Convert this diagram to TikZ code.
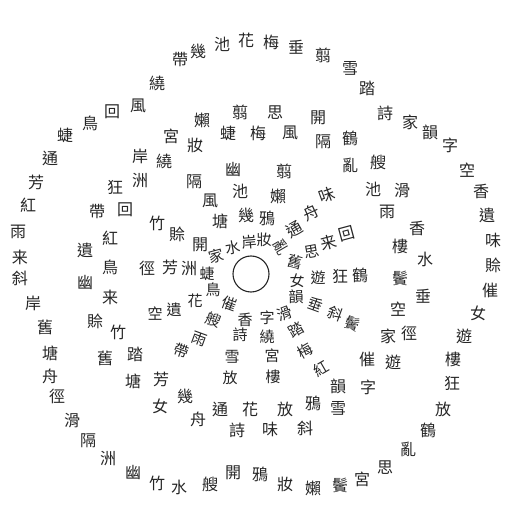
\documentclass[tikz,border=0pt]{standalone}
\usepackage{fontspec}
\newfontfamily\cjk{Noto Sans CJK TC}
\begin{document}
\begin{tikzpicture}[x=1pt,y=-1pt,
  ch/.style={inner sep=0pt, outer sep=0pt, text=black!85, font=\cjk\fontsize{16pt}{16pt}\selectfont}]
\useasboundingbox (0,0) rectangle (525,521);
\fill[white] (0,0) rectangle (525,521);
\node[draw=black!85, circle, line width=1.1pt, minimum size=36pt, inner sep=0pt] (hub) at (251,274) {};
% outer ring
\foreach \c/\x/\y [count=\i] in {帶/180/60, 幾/198/51, 池/222/44, 花/246/40, 梅/271/42, 垂/296/47, 翦/323/55, 雪/350/68, 踏/367/88, 詩/385/113, 家/410/122, 韻/430/132, 字/450/145, 空/467/170, 香/481/191, 遺/487/215, 味/493/240, 賒/493/265, 催/490/290, 女/478/313, 遊/464/336, 樓/453/359, 狂/452/383, 放/443/409, 鶴/428/430, 亂/408/449, 思/385/468, 宮/362/479, 鬢/340/485, 嬾/313/488, 妝/285/484, 鴉/260/474, 開/233/473, 艘/210/484, 水/179/487, 竹/157/483, 幽/133/472, 洲/108/459, 隔/88/441, 滑/72/421, 徑/57/396, 舟/50/376, 塘/50/353, 舊/45/327, 岸/33/303, 斜/20/278, 来/20/257, 雨/18/232, 紅/28/205, 芳/36/182, 通/50/158, 蜨/65/135, 鳥/90/123, 回/112/112, 風/138/106, 繞/157/83}
  {\node[ch] (o\i) at (\x,\y) {\c};}
% inner characters
\foreach \c/\x/\y/\r [count=\i] in {嬾/202/120/0, 翦/240/112/0, 思/275/113/0, 開/318/118/0, 宮/171/136/0, 蜨/228/133/0, 梅/258/133/0, 風/290/133/0, 鶴/350/138/0, 妝/195/145/0, 隔/323/142/0, 岸/140/156/0, 繞/164/161/0, 亂/350/165/0, 艘/378/162/0, 幽/233/170/0, 翦/284/171/0, 洲/140/181/0, 狂/115/187/0, 隔/194/182/0, 池/240/191/0, 嬾/278/196/0, 味/327/195/20, 池/373/189/0, 滑/402/191/0, 風/210/201/0, 雨/387/212/0, 帶/97/212/0, 回/125/210/0, 舟/311/213/25, 幾/246/215/0, 鴉/267/218/0, 塘/220/221/0, 竹/157/223/0, 通/294/229/30, 香/417/228/0, 賒/177/234/0, 回/347/234/15, 紅/110/238/0, 来/329/243/15, 開/200/245/0, 樓/400/246/0, 鬢/400/278/0, 水/425/259/0, 遺/85/250/0, 鳥/110/267/0, 徑/147/268/0, 芳/170/267/0, 洲/189/269/0, 狂/340/276/0, 鶴/360/275/0, 幽/85/283/0, 垂/423/296/0, 来/110/297/0, 空/398/309/0, 賒/95/321/0, 竹/118/332/0, 家/388/336/0, 徑/409/333/0, 踏/135/354/0, 舊/105/358/0, 催/367/359/0, 遊/393/362/0, 芳/161/379/0, 塘/133/381/0, 韻/338/386/0, 字/368/387/0, 幾/185/396/0, 鴉/313/403/0, 女/160/406/0, 雪/338/408/0, 通/220/409/0, 花/250/409/0, 放/285/409/0, 舟/198/419/0, 斜/305/428/0, 味/270/429/0, 詩/237/430/0}
  {\node[ch, rotate=\r] (n\i) at (\x,\y) {\c};}
% spokes near the hub
\foreach \c/\x/\y/\r [count=\i] in {家/216/256/15, 水/233/248/10, 岸/249/242/5, 妝/264/240/0, 亂/281/247/-60, 舊/295/262/-15, 思/312/252/10, 蜨/207/274/0, 女/297/281/0, 遊/318/278/0, 鳥/213/290/0, 韻/296/297/0, 花/195/301/0, 催/229/304/-20, 垂/316/305/-20, 遺/174/310/0, 空/155/314/0, 斜/335/314/-20, 滑/285/314/20, 字/267/318/0, 香/245/320/0, 艘/213/320/-20, 鬢/352/324/-20, 踏/296/330/30, 詩/240/335/0, 繞/267/337/0, 雨/199/339/-20, 帶/181/351/-20, 梅/305/351/30, 雪/232/357/0, 宮/272/356/0, 紅/321/369/30, 放/230/378/0, 樓/273/377/0}
  {\node[ch, rotate=\r, font=\cjk\fontsize{15pt}{15pt}\selectfont] (s\i) at (\x,\y) {\c};}
\end{tikzpicture}
\end{document}
